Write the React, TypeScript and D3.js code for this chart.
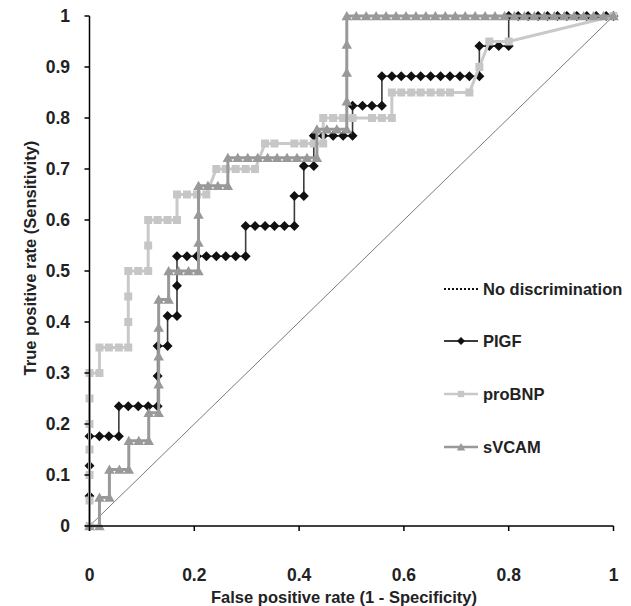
import React from "react";
import * as d3 from "d3";

const X_TICKS = [0, 0.2, 0.4, 0.6, 0.8, 1];
const Y_TICKS = [0, 0.1, 0.2, 0.3, 0.4, 0.5, 0.6, 0.7, 0.8, 0.9, 1];
const X_TITLE = "False positive rate (1 - Specificity)";
const Y_TITLE = "True positive rate (Sensitivity)";

const diagonal: [number, number][] = [[0, 0], [1, 1]];

const plgf: [number, number][] = [
  [0, 0], [0, 0.059], [0, 0.118], [0, 0.176], [0.019, 0.176], [0.037, 0.176], [0.056, 0.176],
  [0.056, 0.235], [0.074, 0.235], [0.093, 0.235], [0.112, 0.235], [0.13, 0.235], [0.13, 0.294],
  [0.13, 0.353], [0.149, 0.353], [0.149, 0.412], [0.167, 0.412], [0.167, 0.471], [0.167, 0.529],
  [0.186, 0.529], [0.205, 0.529], [0.223, 0.529], [0.242, 0.529], [0.26, 0.529], [0.279, 0.529],
  [0.298, 0.529], [0.298, 0.588], [0.316, 0.588], [0.335, 0.588], [0.353, 0.588], [0.372, 0.588],
  [0.391, 0.588], [0.391, 0.647], [0.409, 0.647], [0.409, 0.706], [0.428, 0.706], [0.428, 0.765],
  [0.446, 0.765], [0.465, 0.765], [0.484, 0.765], [0.502, 0.765], [0.502, 0.824], [0.521, 0.824],
  [0.539, 0.824], [0.558, 0.824], [0.558, 0.882], [0.577, 0.882], [0.595, 0.882], [0.614, 0.882],
  [0.632, 0.882], [0.651, 0.882], [0.67, 0.882], [0.688, 0.882], [0.707, 0.882], [0.725, 0.882],
  [0.744, 0.882], [0.744, 0.941], [0.763, 0.941], [0.781, 0.941], [0.8, 0.941], [0.8, 1],
  [0.818, 1], [0.837, 1], [0.856, 1], [0.874, 1], [0.893, 1], [0.911, 1], [0.93, 1], [0.949, 1],
  [0.967, 1], [0.986, 1], [1, 1],
];

const probnp: [number, number][] = [
  [0, 0], [0, 0.05], [0, 0.1], [0, 0.15], [0, 0.2], [0, 0.25], [0, 0.3], [0.019, 0.3],
  [0.019, 0.35], [0.037, 0.35], [0.056, 0.35], [0.074, 0.35], [0.074, 0.4], [0.074, 0.45],
  [0.074, 0.5], [0.093, 0.5], [0.112, 0.5], [0.112, 0.55], [0.112, 0.6], [0.13, 0.6], [0.149, 0.6],
  [0.167, 0.6], [0.167, 0.65], [0.186, 0.65], [0.205, 0.65], [0.223, 0.65], [0.242, 0.7],
  [0.26, 0.7], [0.279, 0.7], [0.298, 0.7], [0.316, 0.7], [0.335, 0.75], [0.353, 0.75],
  [0.391, 0.75], [0.409, 0.75], [0.428, 0.75], [0.446, 0.75], [0.446, 0.8], [0.465, 0.8],
  [0.484, 0.8], [0.502, 0.8], [0.539, 0.8], [0.558, 0.8], [0.577, 0.8], [0.577, 0.85],
  [0.595, 0.85], [0.614, 0.85], [0.632, 0.85], [0.651, 0.85], [0.67, 0.85], [0.688, 0.85],
  [0.725, 0.85], [0.744, 0.9], [0.763, 0.95], [0.8, 0.95], [1, 1],
];

const svcam: [number, number][] = [
  [0, 0], [0.019, 0], [0.019, 0.056], [0.038, 0.056], [0.038, 0.111], [0.057, 0.111],
  [0.075, 0.111], [0.075, 0.167], [0.094, 0.167], [0.113, 0.167], [0.113, 0.222], [0.132, 0.222],
  [0.132, 0.278], [0.132, 0.333], [0.132, 0.389], [0.132, 0.444], [0.151, 0.444], [0.151, 0.5],
  [0.17, 0.5], [0.189, 0.5], [0.208, 0.5], [0.208, 0.556], [0.208, 0.611], [0.208, 0.667],
  [0.226, 0.667], [0.245, 0.667], [0.264, 0.667], [0.264, 0.722], [0.283, 0.722], [0.302, 0.722],
  [0.321, 0.722], [0.34, 0.722], [0.358, 0.722], [0.377, 0.722], [0.396, 0.722], [0.415, 0.722],
  [0.434, 0.722], [0.434, 0.778], [0.453, 0.778], [0.472, 0.778], [0.491, 0.778], [0.491, 0.833],
  [0.491, 0.889], [0.491, 0.944], [0.491, 1], [0.509, 1], [0.528, 1], [0.547, 1], [0.566, 1],
  [0.585, 1], [0.604, 1], [0.623, 1], [0.642, 1], [0.66, 1], [0.679, 1], [0.698, 1], [0.717, 1],
  [0.736, 1], [0.755, 1], [0.774, 1], [0.792, 1], [0.811, 1], [0.83, 1], [0.849, 1], [0.868, 1],
  [0.887, 1], [0.906, 1], [0.925, 1], [0.943, 1], [0.962, 1], [0.981, 1], [1, 1],
];

const LEGEND = ["No discrimination", "PIGF", "proBNP", "sVCAM"];

const FONT = "'Liberation Sans', Arial, Helvetica, sans-serif";

function markerPath(kind: string, s: number) {
  if (kind === "diamond") return `M0,${-s}L${s},0L0,${s}L${-s},0Z`;
  if (kind === "square") return `M${-s},${-s}H${s}V${s}H${-s}Z`;
  return `M0,${-s}L${s * 1.05},${s * 0.85}L${-s * 1.05},${s * 0.85}Z`;
}

export default function App() {
  const W = 631;
  const H = 606;
  const x = d3.scaleLinear().domain([0, 1]).range([89.5, 613.5]);
  const y = d3.scaleLinear().domain([0, 1]).range([526, 16]);
  const line = d3
    .line<[number, number]>()
    .x((d) => x(d[0]))
    .y((d) => y(d[1]));

  const series = [
    { name: LEGEND[1], data: plgf, stroke: "#3c3c3c", sw: 1.6, fill: "#111", kind: "diamond", size: 5 },
    { name: LEGEND[2], data: probnp, stroke: "#c9c9c9", sw: 3, fill: "#c6c6c6", kind: "square", size: 4 },
    { name: LEGEND[3], data: svcam, stroke: "#999999", sw: 3, fill: "#999999", kind: "triangle", size: 5 },
  ];

  const legendY = [289, 341, 394, 447];

  return (
    <svg
      width={W}
      height={H}
      style={{ position: "absolute", left: 0, top: 0, background: "#fff" }}
      fontFamily={FONT}
    >
      <rect x={0} y={0} width={W} height={H} fill="#fff" />
      <path d={line(diagonal) || ""} stroke="#7a7a7a" strokeWidth={1} fill="none" />

      {series.map((s) => (
        <g key={s.name}>
          <path d={line(s.data) || ""} stroke={s.stroke} strokeWidth={s.sw} fill="none" strokeLinejoin="miter" />
          {s.data.map((d, i) => (
            <path
              key={i}
              transform={`translate(${x(d[0])},${y(d[1])})`}
              d={markerPath(s.kind, s.size)}
              fill={s.fill}
            />
          ))}
        </g>
      ))}

      <line x1={x(0)} x2={x(0)} y1={y(1)} y2={y(0)} stroke="#000" strokeWidth={1.5} />
      <line x1={x(0)} x2={x(1)} y1={y(0)} y2={y(0)} stroke="#000" strokeWidth={1.5} />
      {Y_TICKS.map((t) => (
        <g key={"y" + t}>
          <line x1={x(0) - 5} x2={x(0)} y1={y(t)} y2={y(t)} stroke="#000" strokeWidth={1.5} />
          <text
            x={x(0) - 19.5}
            y={y(t)}
            dy="0.36em"
            textAnchor="end"
            fontSize={17.5}
            fontWeight="bold"
            fill="#222"
          >
            {d3.format("~g")(t)}
          </text>
        </g>
      ))}
      {X_TICKS.map((t) => (
        <g key={"x" + t}>
          <line x1={x(t)} x2={x(t)} y1={y(0)} y2={y(0) + 5} stroke="#000" strokeWidth={1.5} />
          <text x={x(t)} y={581} textAnchor="middle" fontSize={17.5} fontWeight="bold" fill="#222">
            {d3.format("~g")(t)}
          </text>
        </g>
      ))}
      <text x={344} y={603} textAnchor="middle" fontSize={16.5} fontWeight="bold" fill="#222">
        {X_TITLE}
      </text>
      <text
        transform={`translate(36,258) rotate(-90)`}
        textAnchor="middle"
        fontSize={16.5}
        fontWeight="bold"
        fill="#222"
      >
        {Y_TITLE}
      </text>

      <g>
        <line x1={444} x2={479} y1={legendY[0]} y2={legendY[0]} stroke="#111" strokeWidth={2} strokeDasharray="2,2" />
        <text x={483} y={legendY[0]} dy="0.36em" fontSize={16.5} fontWeight="bold" fill="#222">
          {LEGEND[0]}
        </text>
        {series.map((s, i) => (
          <g key={"lg" + s.name}>
            <line x1={444} x2={478} y1={legendY[i + 1]} y2={legendY[i + 1]} stroke={s.stroke} strokeWidth={s.sw === 3 ? 2.5 : 1.8} />
            <path
              transform={`translate(461,${legendY[i + 1]})`}
              d={markerPath(s.kind, s.size * 0.8)}
              fill={s.fill}
            />
            <text x={483} y={legendY[i + 1]} dy="0.36em" fontSize={16.5} fontWeight="bold" fill="#222">
              {s.name}
            </text>
          </g>
        ))}
      </g>
    </svg>
  );
}
